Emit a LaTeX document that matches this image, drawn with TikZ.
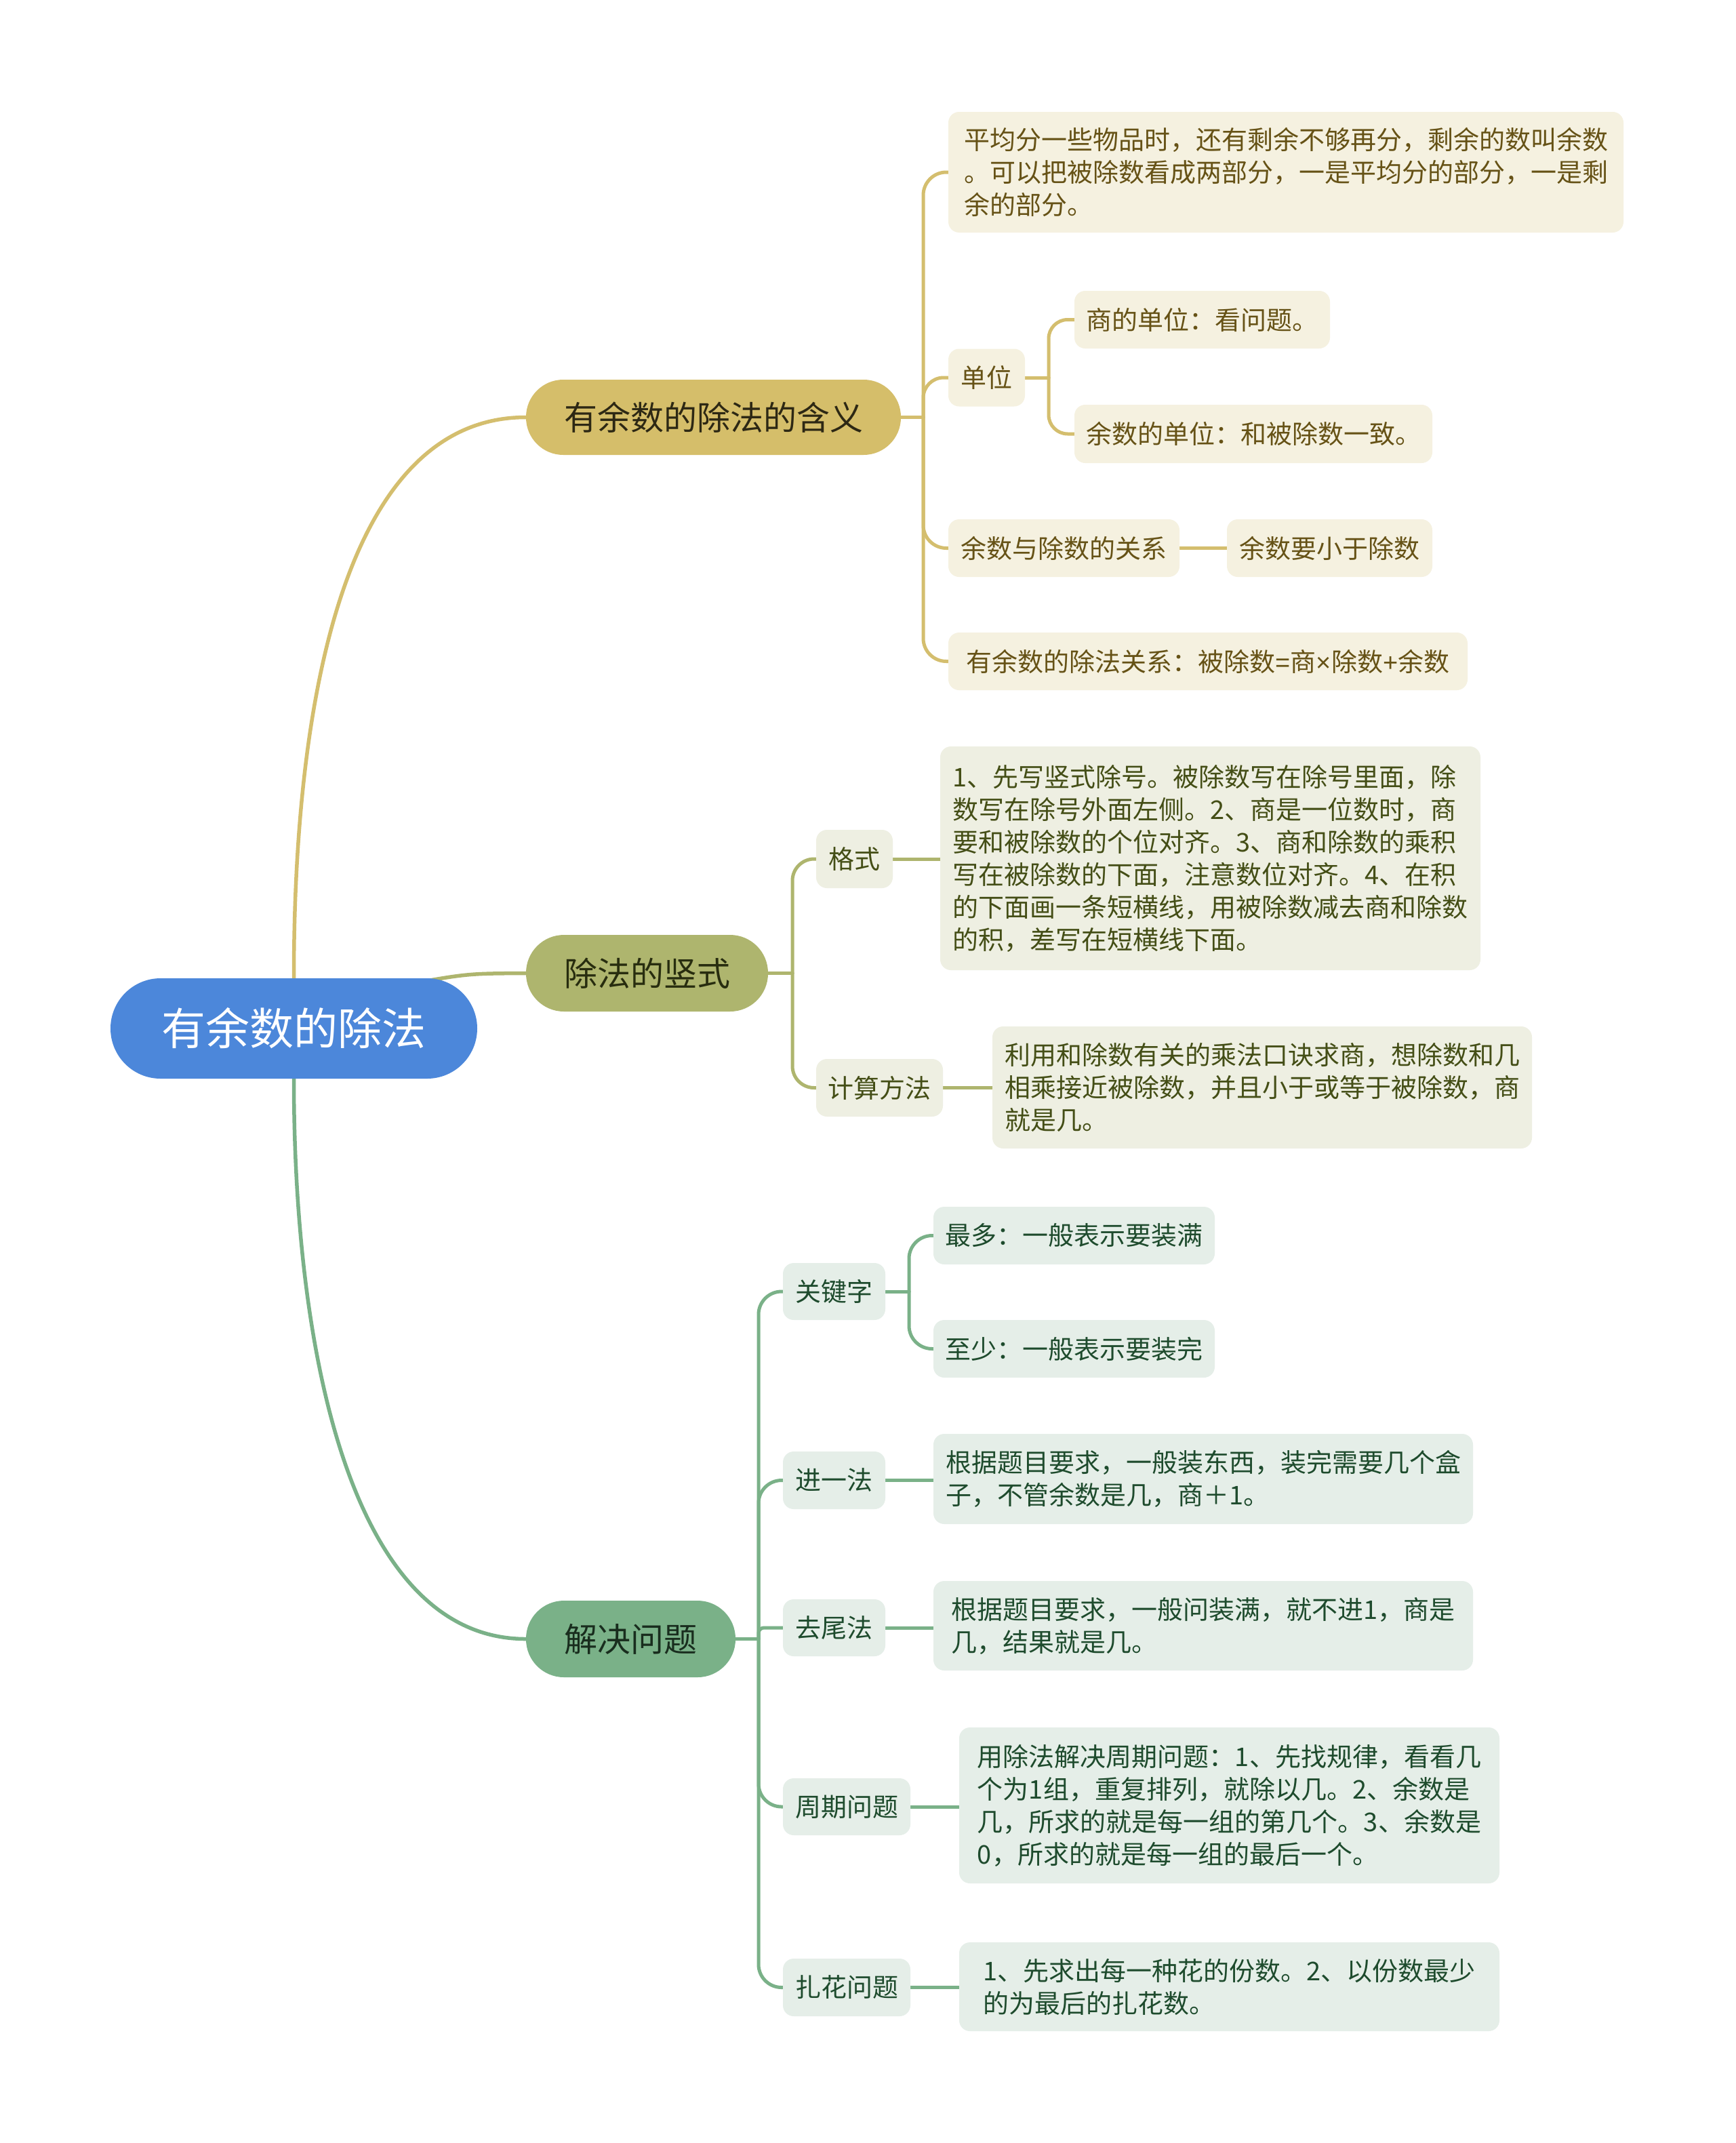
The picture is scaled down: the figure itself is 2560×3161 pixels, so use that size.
\documentclass[tikz,border=0pt]{standalone}
\usepackage{fontspec}
\setmainfont{Noto Sans CJK SC}
\newfontfamily\latinfont{Liberation Sans}
\usetikzlibrary{backgrounds}
\definecolor{rootblue}{RGB}{76,135,218}
\definecolor{aPill}{RGB}{213,190,106}
\definecolor{aLine}{RGB}{212,190,110}
\definecolor{aLeaf}{RGB}{245,241,224}
\definecolor{aText}{RGB}{102,82,22}
\definecolor{aPillText}{RGB}{45,40,20}
\definecolor{bPill}{RGB}{174,181,110}
\definecolor{bLine}{RGB}{174,181,110}
\definecolor{bLeaf}{RGB}{238,239,226}
\definecolor{bText}{RGB}{68,78,22}
\definecolor{bPillText}{RGB}{40,45,15}
\definecolor{cPill}{RGB}{122,177,136}
\definecolor{cLine}{RGB}{122,177,136}
\definecolor{cLeaf}{RGB}{229,238,232}
\definecolor{cText}{RGB}{30,75,45}
\definecolor{cPillText}{RGB}{25,45,30}
\tikzset{
  pill/.style={inner sep=0pt, align=center, font=\fontsize{49}{60}\selectfont},
  leaf/.style={inner sep=0pt, align=left, rounded corners=16pt, font=\fontsize{38}{48}\selectfont},
  leafA/.style={leaf, fill=aLeaf, text=aText},
  leafB/.style={leaf, fill=bLeaf, text=bText},
  leafC/.style={leaf, fill=cLeaf, text=cText},
  conn/.style={line width=5pt, line cap=round},
  connA/.style={conn, draw=aLine},
  connB/.style={conn, draw=bLine},
  connC/.style={conn, draw=cLine},
}
\begin{document}
\begin{tikzpicture}[x=1pt,y=-1pt]
\useasboundingbox (0,0) rectangle (2560,3161);

% root and main branches
\node[pill, fill=rootblue, text=white, rounded corners=74pt, minimum width=541pt, minimum height=148pt, font=\fontsize{65}{78}\selectfont] (root) at (433.5,1517) {有余数的除法};
\node[pill, fill=aPill, text=aPillText, rounded corners=55pt, minimum width=553pt, minimum height=111pt] (b1) at (1052.5,615.5) {有余数的除法的含义};
\node[pill, fill=bPill, text=bPillText, rounded corners=56pt, minimum width=357pt, minimum height=113pt] (b2) at (954.5,1435.5) {除法的竖式};
\node[pill, fill=cPill, text=cPillText, rounded corners=56pt, minimum width=309pt, minimum height=113pt] (b3) at (930.5,2417.5) {解决问题};

% branch 1
\node[leafA, minimum width=996pt, minimum height=178pt] (t1) at (1897,254) {平均分一些物品时，还有剩余不够再分，剩余的数叫余数\\。可以把被除数看成两部分，一是平均分的部分，一是剩\\余的部分。};
\node[leafA, minimum width=113pt, minimum height=85pt] (dw) at (1455.5,557) {单位};
\node[leafA, minimum width=377pt, minimum height=85pt] (sdw) at (1773.5,471.5) {商的单位：看问题。};
\node[leafA, minimum width=528pt, minimum height=86pt] (ydw) at (1849,640) {余数的单位：和被除数一致。};
\node[leafA, minimum width=341pt, minimum height=85pt] (gx) at (1569.5,808.5) {余数与除数的关系};
\node[leafA, minimum width=303pt, minimum height=85pt] (gxl) at (1961.5,808.5) {余数要小于除数};
\node[leafA, minimum width=766pt, minimum height=85pt] (gs) at (1782,975.5) {有余数的除法关系：被除数{\latinfont =}商{\latinfont ×}除数{\latinfont +}余数};

% branch 2
\node[leafB, minimum width=113pt, minimum height=86pt] (gsn) at (1260.5,1267) {格式};
\node[leafB, minimum width=797pt, minimum height=330pt] (gst) at (1785.5,1266) {1、先写竖式除号。被除数写在除号里面，除\\数写在除号外面左侧。2、商是一位数时，商\\要和被除数的个位对齐。3、商和除数的乘积\\写在被除数的下面，注意数位对齐。4、在积\\的下面画一条短横线，用被除数减去商和除数\\的积，差写在短横线下面。};
\node[leafB, minimum width=187pt, minimum height=85pt] (jsff) at (1297.5,1604.5) {计算方法};
\node[leafB, minimum width=796pt, minimum height=180pt] (jst) at (1862,1604) {利用和除数有关的乘法口诀求商，想除数和几\\相乘接近被除数，并且小于或等于被除数，商\\就是几。};

% branch 3
\node[leafC, minimum width=151pt, minimum height=84pt] (gjz) at (1230.5,1905) {关键字};
\node[leafC, minimum width=415pt, minimum height=85pt] (zd) at (1584.5,1822.5) {最多：一般表示要装满};
\node[leafC, minimum width=415pt, minimum height=85pt] (zs) at (1584.5,1989.5) {至少：一般表示要装完};
\node[leafC, minimum width=151pt, minimum height=85pt] (jyf) at (1230.5,2183.5) {进一法};
\node[leafC, minimum width=796pt, minimum height=133pt] (jyt) at (1775,2181.5) {根据题目要求，一般装东西，装完需要几个盒\\子，不管余数是几，商＋1。};
\node[leafC, minimum width=151pt, minimum height=84pt] (qwf) at (1230.5,2401) {去尾法};
\node[leafC, minimum width=796pt, minimum height=132pt] (qwt) at (1775,2398) {根据题目要求，一般问装满，就不进1，商是\\几，结果就是几。};
\node[leafC, minimum width=188pt, minimum height=84pt] (zq) at (1249,2665) {周期问题};
\node[leafC, minimum width=797pt, minimum height=230pt] (zqt) at (1813.5,2663) {用除法解决周期问题：1、先找规律，看看几\\个为1组，重复排列，就除以几。2、余数是\\几，所求的就是每一组的第几个。3、余数是\\0，所求的就是每一组的最后一个。};
\node[leafC, minimum width=188pt, minimum height=85pt] (zh) at (1249,2931.5) {扎花问题};
\node[leafC, minimum width=797pt, minimum height=131pt] (zht) at (1813.5,2930.5) {1、先求出每一种花的份数。2、以份数最少\\的为最后的扎花数。};

\coordinate (r2) at (600,1452);
\coordinate (j1) at (1362,615.5);
\coordinate (j1a) at (1547,557);
\coordinate (j2) at (1169,1435.5);
\coordinate (j3) at (1119,2417.5);
\coordinate (j3a) at (1341,1905);

\begin{scope}[on background layer]
  \fill[white] (0,0) rectangle (2560,3161);
  % main connectors
  \draw[connA, line width=5.5pt] (root.north) .. controls (433.5,1000) and (520,615.5) .. (b1.west);
  \draw[connB, line width=5.5pt] (r2) .. controls (690,1436) .. (b2.west);
  \draw[connC, line width=5.5pt] (root.south) .. controls (433.5,2000) and (520,2417.5) .. (b3.west);
  % branch 1 bus
  \draw[connA] (b1.east) -- (j1);
  \draw[connA, rounded corners=34pt] (j1) |- (t1.west);
  \draw[connA, rounded corners=30pt] (j1) |- (dw.west);
  \draw[connA, rounded corners=34pt] (j1) |- (gx.west);
  \draw[connA, rounded corners=34pt] (j1) |- (gs.west);
  \draw[connA] (dw.east) -- (j1a);
  \draw[connA, rounded corners=28pt] (j1a) |- (sdw.west);
  \draw[connA, rounded corners=28pt] (j1a) |- (ydw.west);
  \draw[connA] (gx.east) -- (gxl.west);
  % branch 2 bus
  \draw[connB] (b2.east) -- (j2);
  \draw[connB, rounded corners=32pt] (j2) |- (gsn.west);
  \draw[connB, rounded corners=32pt] (j2) |- (jsff.west);
  \draw[connB] (gsn.east) -- (gsn.east -| gst.west);
  \draw[connB] (jsff.east) -- (jsff.east -| jst.west);
  % branch 3 bus
  \draw[connC] (b3.east) -- (j3);
  \draw[connC, rounded corners=34pt] (j3) |- (gjz.west);
  \draw[connC, rounded corners=34pt] (j3) |- (jyf.west);
  \draw[connC, rounded corners=8pt] (j3) |- (qwf.west);
  \draw[connC, rounded corners=34pt] (j3) |- (zq.west);
  \draw[connC, rounded corners=34pt] (j3) |- (zh.west);
  \draw[connC] (gjz.east) -- (j3a);
  \draw[connC, rounded corners=34pt] (j3a) |- (zd.west);
  \draw[connC, rounded corners=34pt] (j3a) |- (zs.west);
  \draw[connC] (jyf.east) -- (jyf.east -| jyt.west);
  \draw[connC] (qwf.east) -- (qwf.east -| qwt.west);
  \draw[connC] (zq.east) -- (zq.east -| zqt.west);
  \draw[connC] (zh.east) -- (zh.east -| zht.west);
\end{scope}
\end{tikzpicture}
\end{document}
